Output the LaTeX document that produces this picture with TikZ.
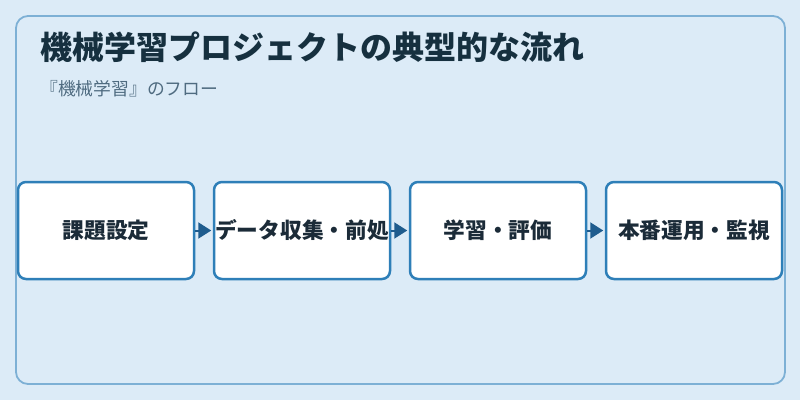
\documentclass[tikz,border=0pt]{standalone}
\usepackage{fontspec}
\setmainfont{Noto Sans CJK JP}
\usetikzlibrary{arrows.meta}
\definecolor{bgc}{HTML}{DCEBF7}
\definecolor{framec}{HTML}{7DB0D5}
\definecolor{boxc}{HTML}{2E7FB8}
\definecolor{arrc}{HTML}{1F5C8E}
\definecolor{titlec}{HTML}{16303F}
\definecolor{subc}{HTML}{4F6B80}
\definecolor{textc}{HTML}{1B2B38}
\tikzset{
  stepbox/.style={draw=boxc, line width=2.5pt, fill=white, rounded corners=8pt,
    minimum width=176pt, minimum height=97pt, inner sep=0pt,
    font=\fontsize{21.7}{24}\selectfont\bfseries, text=textc},
  flowarrow/.style={draw=arrc, line width=2pt, shorten >=1.5pt,
    -{Triangle[length=13pt,width=16pt]}, arrc},
}
\begin{document}
\begin{tikzpicture}[x=1pt,y=-1pt]
\fill[bgc] (0,0) rectangle (800,400);
\useasboundingbox (0,0) rectangle (800,400);
\draw[framec, line width=1.8pt, rounded corners=12pt, fill=bgc] (16,16) rectangle (785,384);
\node[anchor=west, font=\fontsize{32}{34}\selectfont\bfseries, text=titlec, inner sep=0pt] (title) at (40,47) {機械学習プロジェクトの典型的な流れ};
\node[anchor=west, font=\fontsize{17.8}{20}\selectfont, text=subc, inner sep=0pt] (sub) at (40,89) {『機械学習』のフロー};
\node[stepbox] (b1) at (106,230.5) {課題設定};
\node[stepbox] (b2) at (302,230.5) {データ収集・前処};
\node[stepbox] (b3) at (498,230.5) {学習・評価};
\node[stepbox] (b4) at (694,230.5) {本番運用・監視};
\draw[flowarrow] (b1.east) -- (b2.west);
\draw[flowarrow] (b2.east) -- (b3.west);
\draw[flowarrow] (b3.east) -- (b4.west);
\end{tikzpicture}
\end{document}
